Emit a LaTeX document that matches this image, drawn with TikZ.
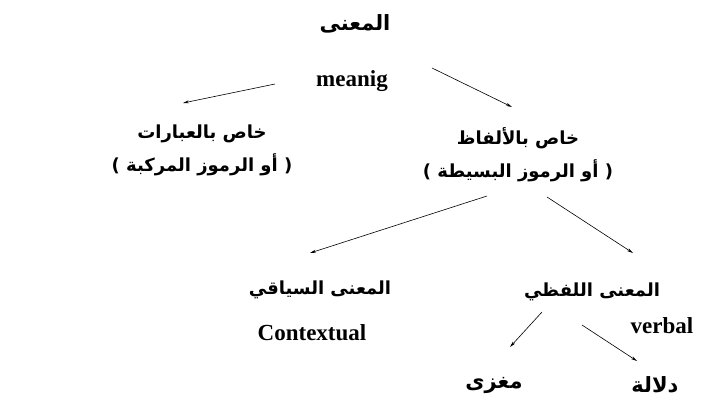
\documentclass[tikz,border=0pt]{standalone}
\usepackage{fontspec}
\setmainfont{Liberation Serif}
\newfontfamily\arabicfont[Script=Arabic]{DejaVu Sans}
\TeXXeTstate=1
\usetikzlibrary{arrows.meta,calc}

\begin{document}
\begin{tikzpicture}[x=1pt,y=-1pt,
  arab/.style={font=\arabicfont\bfseries\fontsize{18}{33}\selectfont, inner sep=1pt, align=center},
  arabbig/.style={arab, font=\arabicfont\bfseries\fontsize{21}{33}\selectfont},
  latn/.style={font=\fontsize{23}{26}\selectfont\bfseries, inner sep=1pt},
  arr/.style={-{Stealth[length=6pt,width=3pt]}, line width=0.6pt},
]
\useasboundingbox (0,0) rectangle (708,402);

% top
\node[arabbig] (mar)  at (355,24)  {\beginR المعنى\endR};
\node[latn] (mean) at (352,81)  {meanig};

% second level
\node[arab] (lx) at (202,150) {\beginR خاص بالعبارات\endR\\\beginR ( أو الرموز المركبة )\endR};
\node[arab] (rx) at (518,155) {\beginR خاص بالألفاظ\endR\\\beginR ( أو الرموز البسيطة )\endR};

% third level
\node[arab] (ctx)  at (320,290) {\beginR المعنى السياقي\endR};
\node[latn] (ctxl) at (312,333) {Contextual};
\node[arab] (vrb)  at (592,292) {\beginR المعنى اللفظي\endR};
\node[latn] (vrbl) at (662,326) {verbal};

% bottom
\node[arabbig] (mgz) at (494,385) {\beginR مغزى\endR};
\node[arabbig] (dll) at (655,385) {\beginR دلالة\endR};

\draw[arr] ($(mean)+(-77,3)$) -- ($(lx)+(-19,-47)$);
\draw[arr] ($(mean)+(80,-13)$) -- ($(rx)+(-6,-48)$);
\draw[arr] ($(rx)+(-31,41)$) -- ($(ctx)+(-10,-37)$);
\draw[arr] ($(rx)+(29,42)$) -- ($(vrb)+(41,-39)$);
\draw[arr] ($(vrb)+(-50,20)$) -- ($(mgz)+(16,-38)$);
\draw[arr] ($(vrb)+(-10,33)$) -- ($(dll)+(-18,-24)$);

\end{tikzpicture}
\end{document}
